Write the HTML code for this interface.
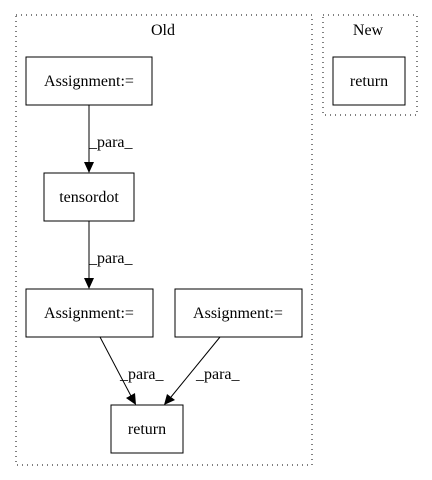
<!DOCTYPE html>
<html><head><style>body{margin:0;background:#fff}svg{display:block}</style></head><body>
<svg width="432" height="480" viewBox="0 0 432 480" xmlns="http://www.w3.org/2000/svg" font-family="Liberation Serif, serif" font-size="16">
<rect x="16" y="15" width="296" height="450" fill="none" stroke="#000" stroke-dasharray="1,4"/>
<text x="163" y="35" text-anchor="middle">Old</text>
<rect x="323" y="15" width="94" height="100" fill="none" stroke="#000" stroke-dasharray="1,4"/>
<text x="368" y="35" text-anchor="middle">New</text>
<g fill="none" stroke="#000">
<rect x="26" y="57" width="126" height="48"/>
<rect x="44" y="173" width="90" height="48"/>
<rect x="26" y="289" width="127" height="48"/>
<rect x="175" y="289" width="127" height="48"/>
<rect x="111" y="405" width="72" height="48"/>
<rect x="333" y="57" width="72" height="48"/>
<line x1="89" y1="105" x2="89" y2="163"/>
<line x1="89" y1="221" x2="89" y2="279"/>
<line x1="100" y1="337" x2="131" y2="396"/>
<line x1="220" y1="337" x2="171" y2="397"/>
</g>
<g fill="#000">
<polygon points="84,162 94,162 89,173"/>
<polygon points="84,278 94,278 89,289"/>
<polygon points="126,398 135,393 136,405"/>
<polygon points="167,394 175,400 164,405"/>
</g>
<g text-anchor="middle">
<text x="89" y="86">Assignment:=</text>
<text x="89" y="202">tensordot</text>
<text x="89" y="318">Assignment:=</text>
<text x="238" y="318">Assignment:=</text>
<text x="147" y="434">return</text>
<text x="369" y="86">return</text>
</g>
<text x="89" y="147">_para_</text>
<text x="89" y="263">_para_</text>
<text x="120" y="379">_para_</text>
<text x="196" y="379">_para_</text>
</svg>
</body></html>
